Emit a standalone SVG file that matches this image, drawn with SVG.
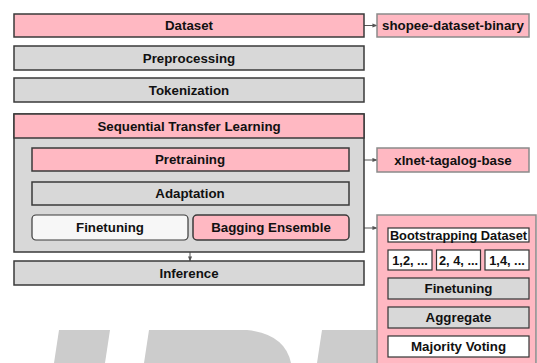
<svg xmlns="http://www.w3.org/2000/svg" width="537" height="363" viewBox="0 0 537 363">
<defs>
<marker id="ah" viewBox="0 0 6 6" refX="5.5" refY="3" markerWidth="5" markerHeight="5" orient="auto" markerUnits="userSpaceOnUse">
<path d="M0,0.5 L6,3 L0,5.5 Z" fill="#555"/>
</marker>
<style>
text{font-family:"Liberation Sans",Arial,sans-serif;font-weight:bold;font-size:13.3px;fill:#111;text-anchor:middle;dominant-baseline:central}
.pink{fill:#ffb8c2;stroke:#3a3a3a;stroke-width:1.5}
.gray{fill:#d8d8d8;stroke:#3a3a3a;stroke-width:1.5}
.white{fill:#f7f7f7;stroke:#3a3a3a;stroke-width:1.2}
.ext{fill:#ffb8c2;stroke:#8a8a8a;stroke-width:1.5}
.inw{fill:#ffffff;stroke:#333;stroke-width:1.2}
.ing{fill:#d8d8d8;stroke:#333;stroke-width:1.2}
.sm{font-size:12.8px}
.conn{fill:none;stroke:#555;stroke-width:1}
.wm{fill:#cccccc}
</style>
</defs>
<rect width="537" height="363" fill="#ffffff"/>
<g id="watermark">
<polygon class="wm" points="59,330 110,330 105,363 54,363"/>
<path class="wm" d="M149,330 L247,330 Q285,334 291,363 L144,363 Z"/>
<polygon class="wm" points="322,330 376,330 376,363 317,363"/>
</g>
<g id="connectors">
<line class="conn" x1="364" y1="25.5" x2="377" y2="25.5" marker-end="url(#ah)"/>
<line class="conn" x1="364" y1="160" x2="377" y2="160" marker-end="url(#ah)"/>
<line class="conn" x1="190" y1="171" x2="190" y2="181" marker-end="url(#ah)"/>
<polyline class="conn" points="190,205 190,209.5 110,209.5 110,215" marker-end="url(#ah)"/>
<polyline class="conn" points="190,209.5 271,209.5 271,215" marker-end="url(#ah)"/>
<line class="conn" x1="190" y1="252" x2="190" y2="261" marker-end="url(#ah)"/>
<line class="conn" x1="349" y1="228" x2="377" y2="228" marker-end="url(#ah)" stroke-width="1.3"/>
</g>
<g id="dataset"><rect class="pink" x="14" y="14" width="350" height="23"/><text x="189" y="25.5">Dataset</text></g>
<g id="shopee"><rect class="ext" x="377" y="14" width="152" height="23"/><text x="453" y="25.5">shopee-dataset-binary</text></g>
<g id="preprocessing"><rect class="gray" x="14" y="46" width="350" height="24"/><text x="189" y="58">Preprocessing</text></g>
<g id="tokenization"><rect class="gray" x="14" y="78" width="350" height="24"/><text x="189" y="90">Tokenization</text></g>
<g id="stl">
<rect class="gray" x="14" y="114" width="350" height="138"/>
<rect class="pink" x="14" y="114" width="350" height="24"/>
<text x="189" y="126">Sequential Transfer Learning</text>
</g>
<g id="pretraining"><rect class="pink" x="32" y="148" width="317" height="23"/><text x="190" y="159.5">Pretraining</text></g>
<g id="adaptation"><rect class="gray" x="32" y="182" width="317" height="23"/><text x="190" y="193.5">Adaptation</text></g>
<g id="finetuning"><rect class="white" x="32" y="215" width="156" height="25" rx="4"/><text x="110" y="227.5">Finetuning</text></g>
<g id="bagging"><rect class="pink" x="193" y="215" width="156" height="25" rx="4" stroke-width="1.2"/><text x="271" y="227.5">Bagging Ensemble</text></g>
<g id="inference"><rect class="gray" x="14" y="261" width="350" height="24"/><text x="189" y="273">Inference</text></g>
<g id="xlnet"><rect class="ext" x="377" y="148" width="152" height="24"/><text x="453" y="160">xlnet-tagalog-base</text></g>
<g id="ensemble">
<rect class="ext" x="377" y="215" width="159" height="160"/>
<g id="bootstrapping"><rect class="inw" x="388" y="228" width="141" height="14"/><text class="sm" x="458.5" y="235">Bootstrapping Dataset</text></g>
<g id="sample1"><rect class="inw" x="388" y="250" width="44" height="20"/><text class="sm" x="410" y="260">1,2, ...</text></g>
<g id="sample2"><rect class="inw" x="436.5" y="250" width="44" height="20"/><text class="sm" x="458.5" y="260">2, 4, ...</text></g>
<g id="sample3"><rect class="inw" x="485" y="250" width="44" height="20"/><text class="sm" x="507" y="260">1,4, ...</text></g>
<g id="ens-finetuning"><rect class="ing" x="388" y="278" width="141" height="21"/><text x="458.5" y="288.5">Finetuning</text></g>
<g id="aggregate"><rect class="ing" x="388" y="307" width="141" height="21"/><text x="458.5" y="317.5">Aggregate</text></g>
<g id="voting"><rect class="inw" x="388" y="336" width="141" height="21"/><text x="458.5" y="346.5">Majority Voting</text></g>
</g>
</svg>
